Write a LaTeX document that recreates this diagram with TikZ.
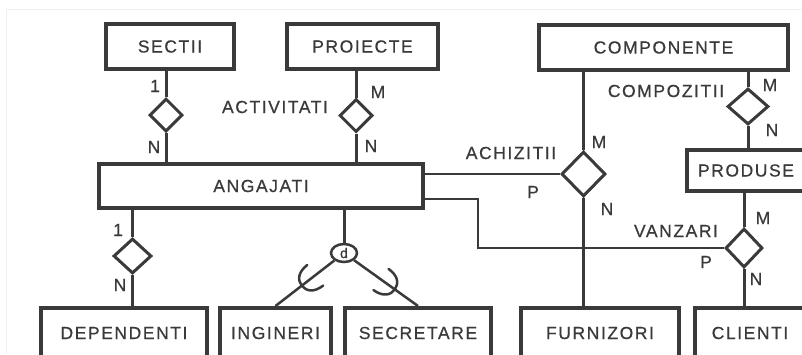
\documentclass[tikz,border=0pt]{standalone}
\usepackage{fontspec}
\setmainfont{Liberation Sans}[LetterSpace=9, FakeBold=0.6]
\usetikzlibrary{shapes.geometric,calc}
\definecolor{ink}{HTML}{3A3A3A}
\begin{document}
\begin{tikzpicture}[x=1pt,y=-1pt,
  every node/.style={text=ink, inner sep=0pt, font=\fontsize{17.5}{20}\selectfont},
  entity/.style 2 args={draw=ink, line width=4pt, rectangle,
    minimum width=#1, minimum height=#2},
  relation/.style 2 args={draw=ink, line width=3pt, diamond,
    minimum width=#1, minimum height=#2},
  conn/.style={draw=ink, line width=3pt},
  longconn/.style={draw=ink, line width=2.5pt},
  card/.style={},
  isacircle/.style={draw=ink, line width=2.5pt, ellipse,
    minimum width=26pt, minimum height=18pt, font=\fontsize{14}{15}\selectfont},
  subsetmark/.style={draw=ink, line width=2.5pt, line cap=round}
]
\useasboundingbox (0,0) rectangle (802,354);
\clip (0,0) rectangle (802,354);
\fill[white] (0,0) rectangle (802,354);
% faint outer frame
\draw[black!6, line width=1pt] (802,9) -- (6,9) -- (6,354);

% entity sets
\node[entity={128pt}{45pt}] (sectii) at (170,46.5) {SECTII};
\node[entity={151pt}{45pt}] (proiecte) at (362.5,46.5) {PROIECTE};
\node[entity={249pt}{45pt}] (comp) at (663.5,47.5) {COMPONENTE};
\node[entity={324pt}{44pt}] (ang) at (261,186) {ANGAJATI};
\node[entity={118pt}{41pt}] (prod) at (746,170.5) {PRODUSE};
\node[entity={166pt}{50pt}] (dep) at (124,333) {DEPENDENTI};
\node[entity={111pt}{50pt}] (ing) at (275.5,333) {INGINERI};
\node[entity={146pt}{50pt}] (sec) at (418,333) {SECRETARE};
\node[entity={158pt}{50pt}] (furn) at (600,333) {FURNIZORI};
\node[entity={110pt}{50pt}] (cli) at (750,333) {CLIENTI};

% relationships
\node[relation={33pt}{33pt}] (d1) at (166,115) {};
\node[relation={33pt}{33pt}] (d2) at (356,115.5) {};
\node[relation={41pt}{36pt}] (d3) at (748,106.5) {};
\node[relation={44pt}{45pt}] (d4) at (583.5,174) {};
\node[relation={37pt}{39pt}] (d5) at (744,248) {};
\node[relation={38pt}{35pt}] (d6) at (132.5,256) {};

% specialisation circle
\node[isacircle] (isa) at (344,253) {d};

% connectors
\draw[conn] (sectii.south -| d1.north) -- (d1.north);
\draw[conn] (d1.south) -- (d1.south |- ang.north);
\draw[conn] (proiecte.south -| d2.north) -- (d2.north);
\draw[conn] (d2.south) -- (d2.south |- ang.north);
\draw[conn] (comp.south -| d3.north) -- (d3.north);
\draw[conn] (d3.south) -- (d3.south |- prod.north);
\draw[conn] (comp.south -| d4.north) -- (d4.north);
\draw[longconn] (d4.south) -- (d4.south |- furn.north);
\draw[longconn] (d4.west) -- (d4.west -| ang.east);
\coordinate (bend) at (478,199);
\draw[longconn] (bend -| ang.east) -- (bend) |- (d5.west);
\draw[conn] (prod.south -| d5.north) -- (d5.north);
\draw[conn] (d5.south) -- (d5.south |- cli.north);
\draw[conn] (ang.south -| d6.north) -- (d6.north);
\draw[conn] (d6.south) -- (d6.south |- dep.north);
\draw[conn] (ang.south -| isa.north) -- (isa.north);
\draw[longconn] (isa) -- (ing.north);
\draw[longconn] (isa) -- (sec.north);

% subset marks on the specialisation lines
\coordinate (sA) at ($(isa)!0.42!(ing.north)$);
\coordinate (sB) at ($(isa)!0.5!(sec.north)$);
\draw[subsetmark, shift={(sA)}, rotate=217.7]
  (0,13) .. controls (12,13) and (17,7) .. (17,0)
  .. controls (17,-7) and (12,-13) .. (0,-13);
\draw[subsetmark, shift={(sB)}, rotate=-35.6]
  (0,13) .. controls (12,13) and (17,7) .. (17,0)
  .. controls (17,-7) and (12,-13) .. (0,-13);

% relationship names and cardinalities
\node (n1) at (275,107) {ACTIVITATI};
\node (n2) at (666,91) {COMPOZITII};
\node (n3) at (511,153) {ACHIZITII};
\node (n4) at (676,231) {VANZARI};

\node[card] (c1) at (155,86) {1};
\node[card] (c2) at (154,147) {N};
\node[card] (c3) at (378,92) {M};
\node[card] (c4) at (371,146) {N};
\node[card] (c5) at (770,85) {M};
\node[card] (c6) at (772,130) {N};
\node[card] (c7) at (599,142) {M};
\node[card] (c8) at (533,192) {P};
\node[card] (c9) at (607,209) {N};
\node[card] (c10) at (763,218) {M};
\node[card] (c11) at (706,262) {P};
\node[card] (c12) at (756,279) {N};
\node[card] (c13) at (118,230) {1};
\node[card] (c14) at (120,285) {N};
\end{tikzpicture}
\end{document}
